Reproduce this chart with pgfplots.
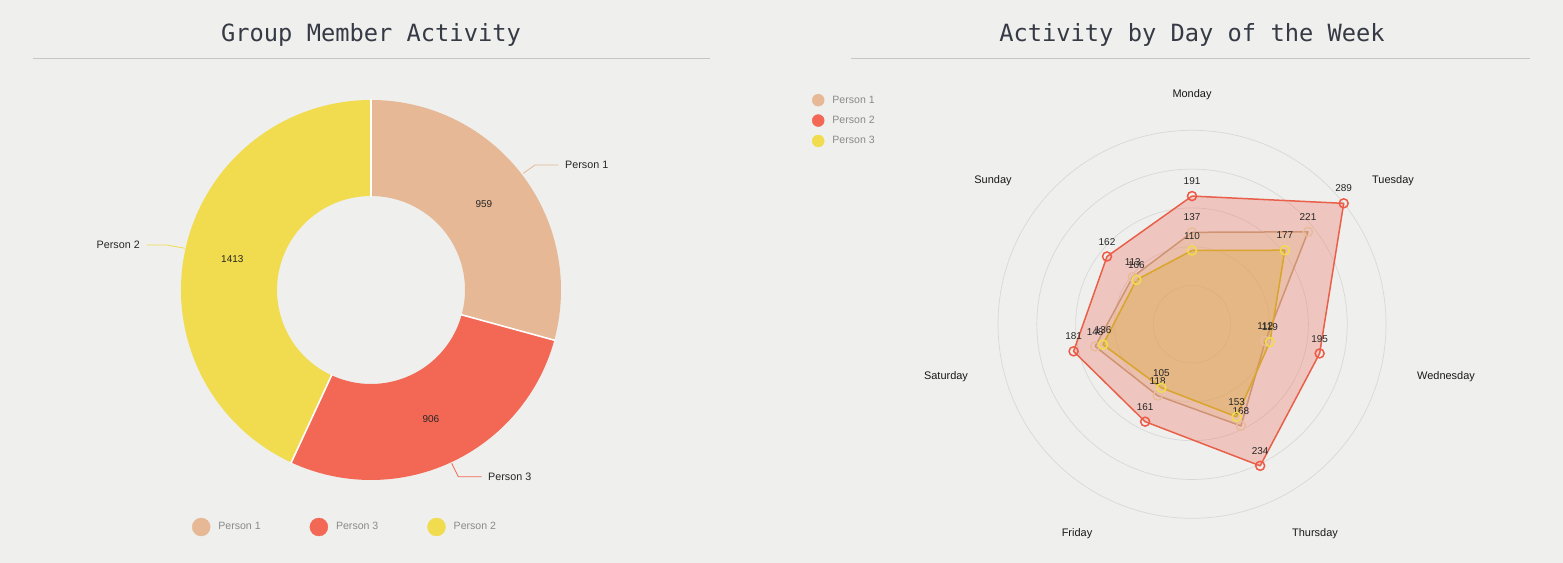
\documentclass[border=0pt]{standalone}
\usepackage{fontspec}
\setmainfont{Liberation Sans}
\newfontfamily\titlefont{DejaVu Sans Mono}
\usepackage{pgfplots}
\pgfplotsset{compat=1.18}
\usepackage{pgfplotstable}
\usepgfplotslibrary{polar}

\definecolor{bg}{HTML}{EFEFED}
\definecolor{pA}{HTML}{E6B895}
\definecolor{pB}{HTML}{F26855}
\definecolor{pC}{HTML}{F0DC4E}
\definecolor{lineA}{HTML}{CF9474}
\definecolor{lineB}{HTML}{E8604A}
\definecolor{lineC}{HTML}{D9A52A}
\definecolor{markA}{HTML}{E8BB9C}
\definecolor{markB}{HTML}{EE5A48}
\definecolor{markC}{HTML}{F0DC4E}
\definecolor{titlecol}{HTML}{353A45}
\definecolor{rulecol}{HTML}{C6C6C6}
\definecolor{legendgray}{HTML}{8A8A8A}
\definecolor{gridcol}{HTML}{D8D8D6}

% donut values: Person 1, Person 3, Person 2
\def\vA{959}\def\vB{906}\def\vC{1413}

\pgfplotstableread{
ang p1 p2 p3
90 137 191 110
38.571 221 289 177
347.143 112 195 119
295.714 168 234 153
244.286 118 161 105
192.857 148 181 136
141.429 113 162 106
}\radardata
\pgfplotstableread{
ang p1 p2 p3
90 137 191 110
38.571 221 289 177
347.143 112 195 119
295.714 168 234 153
244.286 118 161 105
192.857 148 181 136
141.429 113 162 106
450 137 191 110
}\radarclosed

\newcommand\sector[3]{%
  \pgfmathsetmacro\xa{371+94*cos(#1)}\pgfmathsetmacro\ya{273+94*sin(#1)}%
  \pgfmathsetmacro\xb{371+190*cos(#1)}\pgfmathsetmacro\yb{273+190*sin(#1)}%
  \pgfmathsetmacro\xc{371+94*cos(#2)}\pgfmathsetmacro\yc{273+94*sin(#2)}%
  \edef\tmp{\noexpand\fill[#3] (axis cs:\xa,\ya) -- (axis cs:\xb,\yb)
    arc[start angle=#1, end angle=#2, radius=190bp] -- (axis cs:\xc,\yc)
    arc[start angle=#2, end angle=#1, radius=94bp] -- cycle;}\tmp}
\newcommand\sepline[1]{%
  \pgfmathsetmacro\xa{371+93*cos(#1)}\pgfmathsetmacro\ya{273+93*sin(#1)}%
  \pgfmathsetmacro\xb{371+191*cos(#1)}\pgfmathsetmacro\yb{273+191*sin(#1)}%
  \edef\tmp{\noexpand\draw[white, line width=1.6bp] (axis cs:\xa,\ya) -- (axis cs:\xb,\yb);}\tmp}
\newcommand\seglabel[3]{%
  \pgfmathsetmacro\xm{371+142*cos((#1+#2)/2)}\pgfmathsetmacro\ym{273+142*sin((#1+#2)/2)}%
  \edef\tmp{\noexpand\node[font=\noexpand\fontsize{10}{12}\noexpand\selectfont, text=black!85, inner sep=0pt] at (axis cs:\xm,\ym) {#3};}\tmp}

\begin{document}
\begin{tikzpicture}[x=1bp,y=1bp]
\useasboundingbox (0,0) rectangle (1563,563);
\fill[bg] (0,0) rectangle (1563,563);

% titles and rules
\node[font=\titlefont\fontsize{23.8}{28}\selectfont, text=titlecol, anchor=base, inner sep=0pt] at (371,521) {Group Member Activity};
\node[font=\titlefont\fontsize{23.8}{28}\selectfont, text=titlecol, anchor=base, inner sep=0pt] at (1192,521) {Activity by Day of the Week};
\draw[rulecol, line width=1bp] (33,504) -- (710,504);
\draw[rulecol, line width=1bp] (851,504) -- (1530,504);

\pgfmathsetmacro\tot{\vA+\vB+\vC}
\pgfmathsetmacro\aA{90}
\pgfmathsetmacro\aB{90-\vA/\tot*360}
\pgfmathsetmacro\aC{\aB-\vB/\tot*360}
\pgfmathsetmacro\aD{\aC-\vC/\tot*360}

% donut
\begin{axis}[at={(0bp,0bp)}, anchor=south west, width=1563bp, height=563bp,
  scale only axis, xmin=0, xmax=1563, ymin=0, ymax=563, hide axis, clip=false,
  legend columns=3,
  legend style={at={(axis cs:192,36)}, anchor=west, draw=none, fill=none,
    inner sep=0pt, outer sep=0pt,
    font=\fontsize{10.6}{12}\selectfont,
    nodes={inner sep=0pt, text=legendgray},
    /tikz/every odd column/.append style={column sep=8bp},
    /tikz/every even column/.append style={column sep=49bp}},
  legend cell align=left]
\sector{\aA}{\aB}{pA}
\sector{\aB}{\aC}{pB}
\sector{\aC}{\aD}{pC}
\sepline{\aB}
\sepline{\aC}
\sepline{\aA}
\seglabel{\aA}{\aB}{959}
\seglabel{\aB}{\aC}{906}
\seglabel{\aC}{\aD}{1413}
\draw[pA, line width=0.8bp] (axis cs:523.3,389.7) -- (axis cs:535,398) -- (axis cs:558.3,398);
\draw[pB, line width=0.8bp] (axis cs:451.7,99.7) -- (axis cs:458.3,86.3) -- (axis cs:481.7,86.3);
\draw[pC, line width=0.8bp] (axis cs:185,314.7) -- (axis cs:166.7,318) -- (axis cs:146.7,318);
\node[font=\fontsize{10.8}{12}\selectfont, text=black!85, anchor=base west, inner sep=0pt] at (axis cs:565,394) {Person 1};
\node[font=\fontsize{10.8}{12}\selectfont, text=black!85, anchor=base west, inner sep=0pt] at (axis cs:488,82) {Person 3};
\node[font=\fontsize{10.8}{12}\selectfont, text=black!85, anchor=base east, inner sep=0pt] at (axis cs:140,314) {Person 2};
\addlegendimage{legend image code/.code={\fill[pA] (9bp,0bp) circle (9bp);}}
\addlegendentry{Person 1}
\addlegendimage{legend image code/.code={\fill[pB] (9bp,0bp) circle (9bp);}}
\addlegendentry{Person 3}
\addlegendimage{legend image code/.code={\fill[pC] (9bp,0bp) circle (9bp);}}
\addlegendentry{Person 2}
\end{axis}

% radar legend
\begin{axis}[at={(0bp,0bp)}, anchor=south west, width=1563bp, height=563bp,
  scale only axis, xmin=0, xmax=1563, ymin=0, ymax=563, hide axis, clip=false,
  legend style={at={(axis cs:812,469)}, anchor=north west, draw=none, fill=none,
    inner sep=0pt, outer sep=0pt, row sep=8bp,
    font=\fontsize{10.6}{12}\selectfont,
    nodes={inner sep=0pt, text=legendgray},
    /tikz/every odd column/.append style={column sep=8bp}},
  legend cell align=left]
\addlegendimage{legend image code/.code={\fill[pA] (6bp,0bp) circle (6bp);}}
\addlegendentry{Person 1}
\addlegendimage{legend image code/.code={\fill[pB] (6bp,0bp) circle (6bp);}}
\addlegendentry{Person 2}
\addlegendimage{legend image code/.code={\fill[pC] (6bp,0bp) circle (6bp);}}
\addlegendentry{Person 3}
\end{axis}

\begin{polaraxis}[at={(1192bp,238.7bp)}, anchor=origin,
  width=388bp, height=388bp, scale only axis,
  xmin=0, xmax=360, ymin=0, ymax=289,
  xtick=\empty, ytick={57.8,115.6,173.4,231.2,289},
  yticklabels={{},{},{},{},{}},
  yticklabel style={text opacity=0},
  ymajorgrids=true, xmajorgrids=false,
  grid style={color=gridcol, line width=0.7bp},
  axis line style={draw=none}, major tick length=0pt, clip=false,
  every node near coord/.append style={font=\fontsize{10}{12}\selectfont, text=black!85, inner sep=0pt, anchor=south, yshift=10.5bp},
  nodes near coords={\pgfmathprintnumber[assume math mode=true]{\pgfplotspointmeta}},
  point meta=explicit]
\addplot[draw=lineB, line width=1.5bp, fill=pB, fill opacity=0.3, line join=round, forget plot, nodes near coords=] table[x=ang, y=p2, meta=p2] {\radarclosed};
\addplot[draw=lineA, line width=1.5bp, fill=pA, fill opacity=0.45, line join=round, forget plot, nodes near coords=] table[x=ang, y=p1, meta=p1] {\radarclosed};
\addplot[draw=lineC, line width=1.5bp, fill=lineC, fill opacity=0.3, line join=round, forget plot, nodes near coords=] table[x=ang, y=p3, meta=p3] {\radarclosed};
\addplot[only marks, mark=o, mark size=4.5bp, draw=markA, mark options={line width=1.5bp, draw=markA, fill=none}, forget plot] table[x=ang, y=p1, meta=p1] {\radardata};
\addplot[only marks, mark=o, mark size=4.5bp, draw=markB, mark options={line width=1.5bp, draw=markB, fill=none}, forget plot] table[x=ang, y=p2, meta=p2] {\radardata};
\addplot[only marks, mark=o, mark size=4.5bp, draw=markC, mark options={line width=1.5bp, draw=markC, fill=none}, forget plot] table[x=ang, y=p3, meta=p3] {\radardata};
\end{polaraxis}

\begin{scope}[every node/.style={font=\fontsize{11}{13}\selectfont, text=black!90, anchor=base, inner sep=0pt}]
\node at (1192,465) {Monday};
\node at (1393,379) {Tuesday};
\node at (1446,183) {Wednesday};
\node at (1315,26) {Thursday};
\node at (1077,26) {Friday};
\node at (946,183) {Saturday};
\node at (993,379) {Sunday};
\end{scope}
\end{tikzpicture}
\end{document}
